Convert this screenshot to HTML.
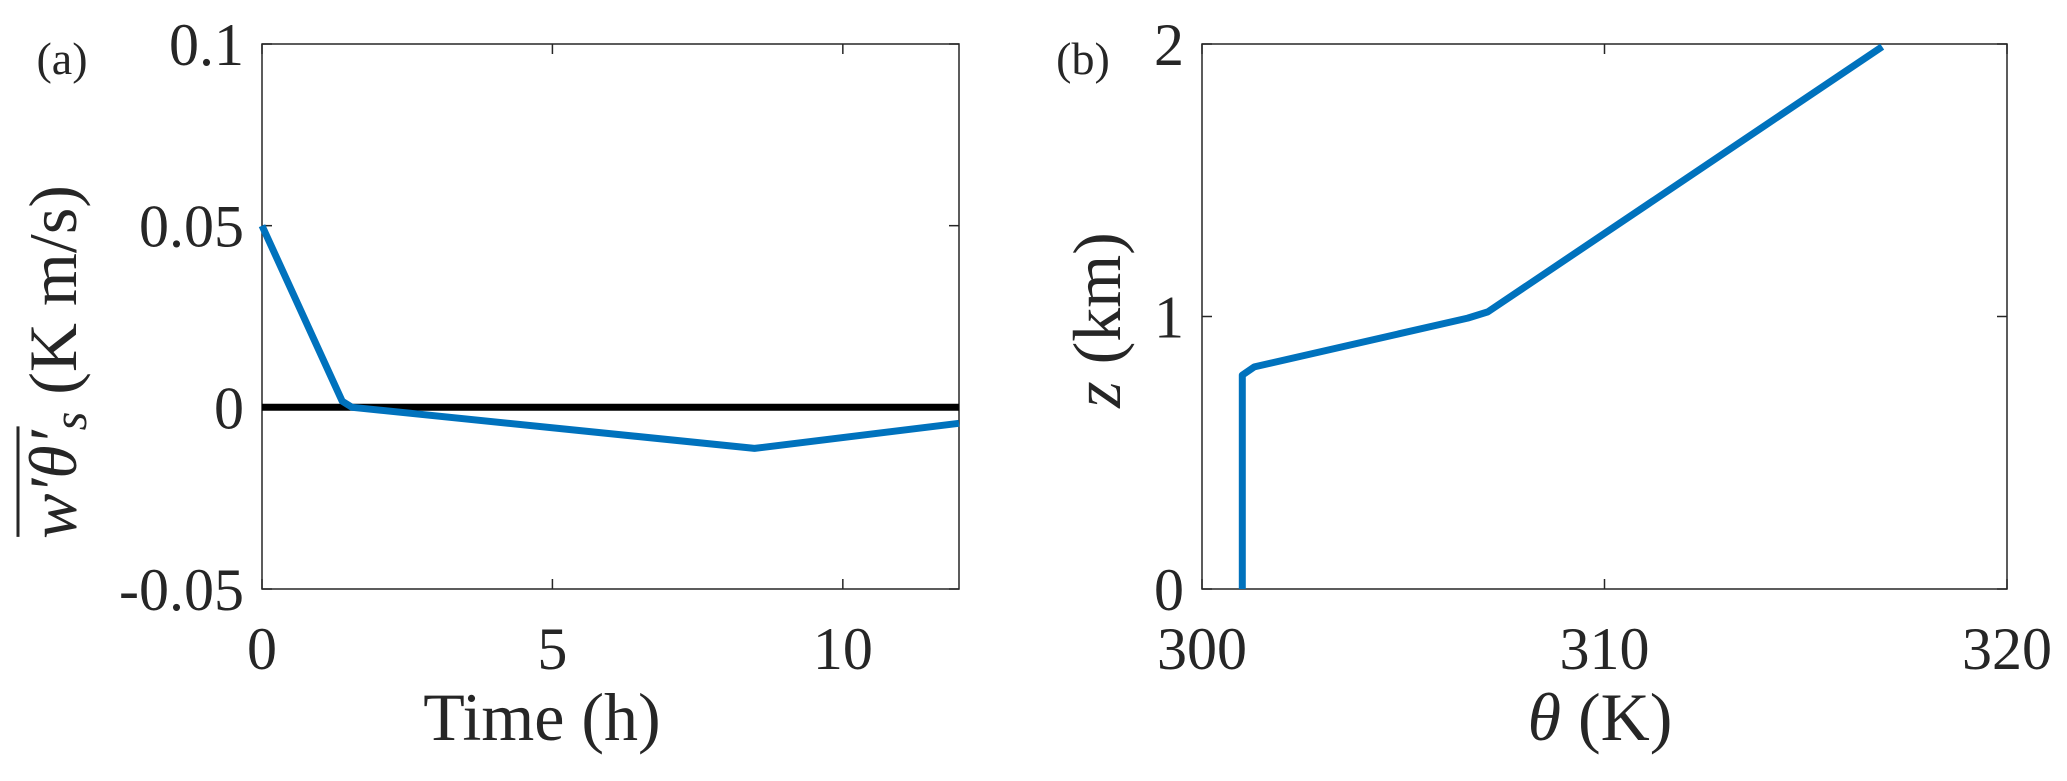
<!DOCTYPE html>
<html><head><meta charset="utf-8"><style>
html,body{margin:0;padding:0;background:#fff}
svg{display:block}
text{font-family:"Liberation Serif",serif;fill:#262626}
</style></head><body>
<svg id="fig" width="2067" height="781" viewBox="0 0 2067 781" xmlns="http://www.w3.org/2000/svg">
<g id="pa"></g>
<g id="pb"></g>
</svg>
<script>
// Panel (a) data
const aTime = [0, 1.38, 1.55, 8.48, 12];
const aFlux = [0.05, 0.0017, 0, -0.0113, -0.0044];
const aXTicks = [0, 5, 10];
const aXTickLabels = ["0", "5", "10"];
const aYTicks = [-0.05, 0, 0.05, 0.1];
const aYTickLabels = ["-0.05", "0", "0.05", "0.1"];
const aZeroLine = [0, 0];
// Panel (b) data
const bTheta = [301.0, 301.0, 301.3, 306.6, 307.1, 316.9];
const bZ = [0, 0.785, 0.815, 0.994, 1.017, 1.99];
const bXTicks = [300, 310, 320];
const bXTickLabels = ["300", "310", "320"];
const bYTicks = [0, 1, 2];
const bYTickLabels = ["0", "1", "2"];

const NS = "http://www.w3.org/2000/svg";
function mk(parent, tag, attrs, txt){
  const e = document.createElementNS(NS, tag);
  for (const k in attrs) e.setAttribute(k, attrs[k]);
  if (txt !== undefined) e.textContent = txt;
  parent.appendChild(e);
  return e;
}
function panel(g, box, xr, yr, xt, xtl, yt, ytl){
  const sx = v => box.l + (v - xr[0]) / (xr[1] - xr[0]) * (box.r - box.l);
  const sy = v => box.b - (v - yr[0]) / (yr[1] - yr[0]) * (box.b - box.t);
  const frame = mk(g, "rect", {x: box.l, y: box.t, width: box.r - box.l, height: box.b - box.t, fill: "none", stroke: "#262626", "stroke-width": 1.5});
  
  
  xt.forEach((v, i) => {
    const x = sx(v);
    const t1 = mk(g, "line", {x1: x, x2: x, y1: box.b, y2: box.b - 10, stroke: "#262626", "stroke-width": 1.5});
    
    
    const t2 = mk(g, "line", {x1: x, x2: x, y1: box.t, y2: box.t + 10, stroke: "#262626", "stroke-width": 1.5});
    
    
    const lb = mk(g, "text", {x: x, y: box.b + 80, "text-anchor": "middle", "font-size": 60}, xtl[i]);
    
    
  });
  yt.forEach((v, i) => {
    const y = sy(v);
    const t1 = mk(g, "line", {x1: box.l, x2: box.l + 10, y1: y, y2: y, stroke: "#262626", "stroke-width": 1.5});
    
    
    const t2 = mk(g, "line", {x1: box.r, x2: box.r - 10, y1: y, y2: y, stroke: "#262626", "stroke-width": 1.5});
    
    
    const lb = mk(g, "text", {x: box.l - 18, y: y + 21, "text-anchor": "end", "font-size": 60}, ytl[i]);
    
    
  });
  return {sx, sy};
}
function poly(g, xs, ys, s, color, name){
  const pts = xs.map((x, i) => s.sx(x).toFixed(1) + "," + s.sy(ys[i]).toFixed(1)).join(" ");
  const p = mk(g, "polyline", {points: pts, fill: "none", stroke: color, "stroke-width": 7, "stroke-linejoin": "round"});
  
  
}

// Panel a
const ga = document.getElementById("pa");
const boxA = {l: 262, r: 959, t: 44, b: 589};
const sa = panel(ga, boxA, [0, 12], [-0.05, 0.1], aXTicks, aXTickLabels, aYTicks, aYTickLabels);
poly(ga, [0, 12], aZeroLine, sa, "#000", "zero-line");
poly(ga, aTime, aFlux, sa, "#0072BD", "flux-series");
const la = mk(ga, "text", {x: 62, y: 74, "text-anchor": "middle", "font-size": 46}, "(a)");


const xa = mk(ga, "text", {x: 542, y: 740, "text-anchor": "middle", "font-size": 68}, "Time (h)");


const ya = mk(ga, "g", {transform: "translate(76,362) rotate(-90)"});


const yt = mk(ya, "text", {x: 0, y: 0, "text-anchor": "middle", "font-size": 68, "xml:space": "preserve"});
const ov = mk(yt, "tspan", {"font-style": "italic"}, "w′θ′");
mk(yt, "tspan", {"font-style": "italic", "font-size": 48, dy: 10}, "s");
mk(yt, "tspan", {dy: -10}, "   (K m/s)");
const total = yt.getComputedTextLength();
const ovLen = ov.getComputedTextLength();
const ovStart = -total / 2;
mk(ya, "line", {x1: ovStart + 2, x2: ovStart + ovLen + 4, y1: -58, y2: -58, stroke: "#262626", "stroke-width": 3});

// Panel b
const gb = document.getElementById("pb");
const boxB = {l: 1202, r: 2007, t: 44, b: 589};
const sb = panel(gb, boxB, [300, 320], [0, 2], bXTicks, bXTickLabels, bYTicks, bYTickLabels);
poly(gb, bTheta, bZ, sb, "#0072BD", "theta-profile");
const lbb = mk(gb, "text", {x: 1083, y: 74, "text-anchor": "middle", "font-size": 46}, "(b)");


const xb = mk(gb, "text", {x: 1600, y: 740, "text-anchor": "middle", "font-size": 68});


mk(xb, "tspan", {"font-style": "italic"}, "θ");
mk(xb, "tspan", {}, " (K)");
const yb = mk(gb, "text", {transform: "translate(1120,320) rotate(-90)", x: 0, y: 0, "text-anchor": "middle", "font-size": 68, "xml:space": "preserve"});


mk(yb, "tspan", {"font-style": "italic"}, "z");
mk(yb, "tspan", {}, "  (km)");
</script>
</body></html>
